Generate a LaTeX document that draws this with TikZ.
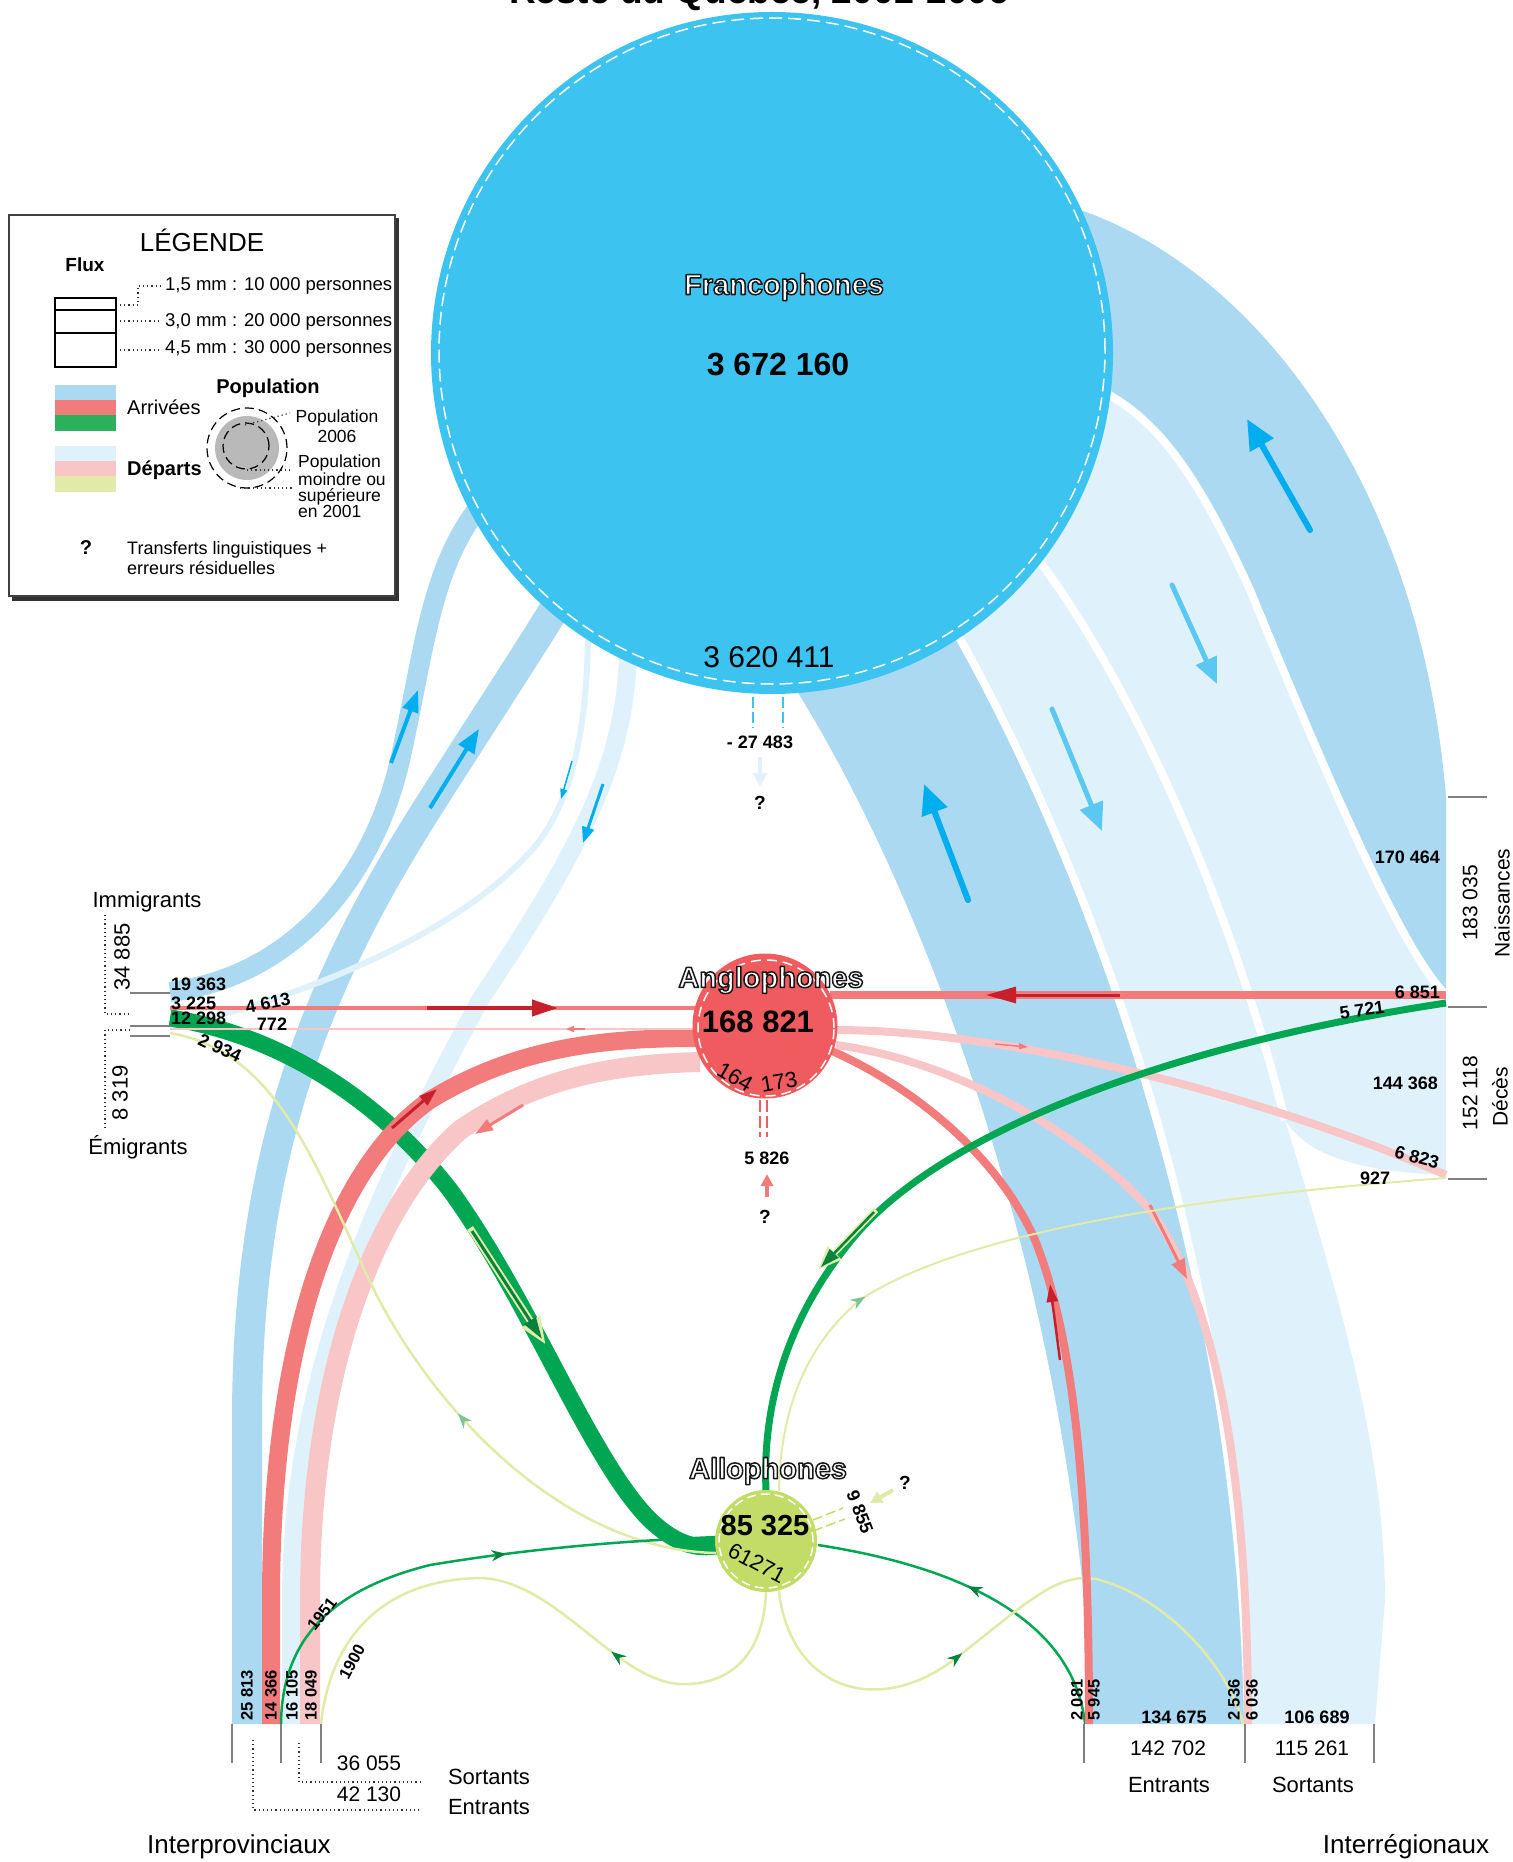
\documentclass[tikz,border=0pt]{standalone}
\usepackage{fontspec}
\setmainfont{Liberation Sans}
\usetikzlibrary{arrows.meta,decorations.markings}

\definecolor{franco}{HTML}{3DC3F0}
\definecolor{bleuA}{HTML}{ABD9F2}
\definecolor{bleuD}{HTML}{DFF2FC}
\definecolor{anglo}{HTML}{EF5B5F}
\definecolor{rougeA}{HTML}{F27B7B}
\definecolor{roseD}{HTML}{F8C6C7}
\definecolor{allo}{HTML}{C3DC67}
\definecolor{vertA}{HTML}{00A651}
\definecolor{vertL}{HTML}{2BB15B}
\definecolor{jauneD}{HTML}{E1EAA7}
\definecolor{flecheA}{HTML}{00AEEF}
\definecolor{flecheD}{HTML}{5BC8F2}
\definecolor{rougeF}{HTML}{C8202A}
\definecolor{vertF}{HTML}{00843D}
\definecolor{vertP}{HTML}{7CC592}

\newcommand\fs[1]{\fontsize{#1}{#1}\selectfont}
\newcommand\outlined[1]{\textcolor{white}{\special{pdf:literal 0.1 G 2 Tr 1.5 w 1 j}#1\special{pdf:literal 0 Tr}}}

\tikzset{
  num/.style={font=\fs{18}\bfseries, inner sep=0pt},
  vnum/.style={font=\fs{16.5}\bfseries, inner sep=0pt, rotate=90, anchor=west},
  lbl/.style={font=\fs{22}, inner sep=0pt},
  outl/.style={font=\fs{29}\bfseries, inner sep=0pt},
  leader/.style={black!80, line width=1.2pt, dash pattern=on 1.2pt off 3pt},
  tick/.style={draw=gray, line width=1.3pt},
  midarr/.style 2 args={postaction={decorate}, decoration={markings, mark=at position #1 with {\arrow[#2]{Stealth[length=15pt,width=11pt]}}}},
  bigarr/.style={-{Triangle[length=30pt,width=26pt]}, line width=6pt, line cap=round}
}

\begin{document}
\begin{tikzpicture}[x=1pt, y=-1pt]
\useasboundingbox (0,0) rectangle (1512,1862);

\node[font=\fs{37}\bfseries, anchor=base] (titre) at (759,4) {Reste du Québec, 2001-2006};

\coordinate (iB) at (170,992);
\coordinate (iR) at (170,1008);
\coordinate (iG) at (170,1018);
\coordinate (eB) at (170,1027);
\coordinate (eR) at (170,1029);
\coordinate (eY) at (170,1033);
\coordinate (pB) at (247,1724);
\coordinate (pR) at (271,1724);
\coordinate (pG) at (281,1724);
\coordinate (sB) at (291,1724);
\coordinate (sR) at (310,1724);
\coordinate (sY) at (321,1724);
\coordinate (rG) at (1085,1724);
\coordinate (rR) at (1089,1724);
\coordinate (rY) at (1243,1724);
\coordinate (rP) at (1248,1724);
\coordinate (nR) at (1446,995);
\coordinate (nG) at (1446,1003);
\coordinate (dP) at (1446,1175);
\coordinate (dY) at (1446,1178);

\draw[fill=black!80, draw=black!80] (12,218) rectangle (398,600);
\draw[fill=white, draw=black!75, line width=1.2pt] (9,215) rectangle (395,596);
\node[font=\fs{26}] (leg) at (202,240) {LÉGENDE};
\node[font=\fs{19}\bfseries] (flux) at (85,265) {Flux};
\draw[line width=1.2pt] (55,298) rectangle (116,310);
\draw[line width=1.2pt] (55,310) rectangle (116,333);
\draw[line width=1.2pt] (55,333) rectangle (116,367);
\draw[leader] (120,305) -- (138,305) -- (138,286) -- (160,286);
\draw[leader] (120,321) -- (160,321);
\draw[leader] (120,350) -- (160,350);
\node[font=\fs{18.5}, anchor=west, inner sep=0pt] (l1) at (165,286) {1,5 mm : 10 000 personnes};
\node[font=\fs{18.5}, anchor=west, inner sep=0pt] (l2) at (165,322) {3,0 mm : 20 000 personnes};
\node[font=\fs{18.5}, anchor=west, inner sep=0pt] (l3) at (165,349) {4,5 mm : 30 000 personnes};
\fill[bleuA] (55,385) rectangle (116,400);
\fill[rougeA] (55,400) rectangle (116,415);
\fill[vertL] (55,415) rectangle (116,431);
\fill[bleuD] (55,446) rectangle (116,461);
\fill[roseD] (55,461) rectangle (116,476);
\fill[jauneD] (55,476) rectangle (116,492);
\node[font=\fs{20}, anchor=west, inner sep=0pt] (arr) at (127,407) {Arrivées};
\node[font=\fs{20}\bfseries, anchor=west, inner sep=0pt] (dep) at (127,470) {Départs};
\node[font=\fs{20}\bfseries] (pop) at (268,388) {Population};
\fill[gray!55] (247,448) circle (32pt);
\draw[line width=1.2pt, dash pattern=on 9pt off 5pt] (246,446) circle (23pt);
\draw[line width=1.2pt, dash pattern=on 9pt off 5pt] (247,448) circle (40pt);
\draw[leader] (245,425) -- (290,413);
\draw[leader] (247,470) -- (293,470);
\draw[leader] (240,488) -- (293,488);
\node[font=\fs{17.5}, align=center, inner sep=0pt] (p06) at (337,426) {Population\\[2pt]2006};
\node[font=\fontsize{17.5}{16}\selectfont, align=left, anchor=north west, inner sep=0pt] (p01) at (298,455) {Population\\moindre ou\\supérieure\\en 2001};
\node[font=\fs{20}\bfseries] (qq) at (86,548) {?};
\node[font=\fontsize{18}{20}\selectfont, align=left, anchor=west, inner sep=0pt] (tl) at (127,558) {Transferts linguistiques +\\erreurs résiduelles};

\fill[bleuA] (1065,205) .. controls (1250,260) and (1420,480) .. (1446,797) -- (1446,995) .. controls (1400,950) and (1320,760) .. (1250,590) .. controls (1200,480) and (1160,420) .. (1100,390) -- cycle;
\fill[bleuD] (1100,390) .. controls (1160,420) and (1200,480) .. (1250,590) .. controls (1320,760) and (1400,950) .. (1446,995) -- (1446,1175) .. controls (1370,1172) and (1310,1160) .. (1285,1120) .. controls (1230,900) and (1130,680) .. (1035,555) -- cycle;
\fill[bleuD] (955,630) .. controls (1080,850) and (1240,1250) .. (1248,1724) -- (1375,1724) -- (1385,1600) .. controls (1385,1450) and (1340,1300) .. (1285,1120) .. controls (1230,900) and (1130,680) .. (1035,555) -- cycle;
\fill[bleuA] (790,680) .. controls (930,900) and (1075,1300) .. (1093,1724) -- (1248,1724) .. controls (1240,1250) and (1080,850) .. (955,630) -- cycle;
\draw[white, line width=8pt] (1100,390) .. controls (1160,420) and (1200,480) .. (1250,590) .. controls (1320,760) and (1400,950) .. (1446,995);
\draw[white, line width=8pt] (1035,555) .. controls (1130,680) and (1230,900) .. (1285,1120);
\draw[white, line width=8pt] (955,630) .. controls (1080,850) and (1240,1250) .. (1248,1724);
\draw[bigarr, flecheA] (1310,530) -- (1247,419);
\draw[bigarr, flecheD, -{Triangle[length=26pt,width=22pt]}, line width=5pt] (1172,585) -- (1217,684);
\draw[bigarr, flecheD, -{Triangle[length=28pt,width=24pt]}, line width=5pt] (1052,709) -- (1102,831);
\draw[bigarr, flecheA] (968,900) -- (924,784);

\draw[bleuA, line width=20pt] (iB) .. controls (300,975) and (375,870) .. (400,760) .. controls (425,650) and (430,560) .. (489,495);
\draw[bleuA, line width=30pt] (pB) -- (247,1420) .. controls (247,1150) and (320,980) .. (420,820) .. controls (480,725) and (520,665) .. (560,600);
\draw[bleuD, line width=18pt] (sB) -- (291,1600) .. controls (291,1350) and (400,1150) .. (480,1000) .. controls (580,850) and (628,760) .. (628,645);
\draw[bleuD, line width=6pt] (eB) .. controls (300,1000) and (470,930) .. (540,840) .. controls (580,785) and (588,700) .. (588,625);
\draw[flecheA, line width=4pt, -{Triangle[length=22pt,width=16pt]}] (391,763) -- (418,690);
\draw[flecheA, line width=4pt, -{Triangle[length=24pt,width=18pt]}] (430,808) -- (479,729);
\draw[flecheA, line width=3pt, -{Triangle[length=16pt,width=12pt]}] (603,784) -- (583,843);
\draw[flecheA, line width=1.5pt, -{Triangle[length=10pt,width=7pt]}] (572,761) -- (561,799);

\draw[vertA, line width=17pt] (iG) .. controls (280,1035) and (380,1100) .. (450,1190) .. controls (530,1300) and (590,1460) .. (650,1520) .. controls (680,1548) and (700,1548) .. (716,1546);
\draw[jauneD, line width=7pt, -{Triangle[length=28pt,width=20pt]}] (470,1228) -- (546,1345);
\draw[vertF, line width=3pt, -{Triangle[length=22pt,width=13pt]}] (472,1231) -- (542,1339);

\draw[rougeA, line width=18pt] (pR) -- (271,1600) .. controls (271,1350) and (330,1170) .. (430,1100) .. controls (520,1045) and (610,1038) .. (700,1038);
\draw[roseD, line width=20pt] (sR) -- (310,1600) .. controls (310,1380) and (370,1210) .. (460,1130) .. controls (540,1075) and (620,1064) .. (700,1062);
\draw[rougeF, line width=3pt, -{Triangle[length=18pt,width=12pt]}] (392,1128) -- (437,1089);
\draw[rougeA, line width=3pt, -{Triangle[length=18pt,width=12pt]}] (523,1105) -- (475,1134);

\draw[rougeA, line width=4pt] (iR) -- (700,1008);
\draw[rougeF, line width=4pt, -{Triangle[length=26pt,width=16pt]}] (427,1008) -- (558,1008);
\draw[roseD, line width=2.5pt] (eR) -- (700,1029);
\draw[rougeA, line width=1.5pt, -{Triangle[length=8pt,width=6pt]}] (585,1029) -- (566,1029);

\draw[jauneD, line width=2.5pt, midarr={0.38}{vertP}] (716,1553) .. controls (560,1550) and (420,1400) .. (360,1260) .. controls (310,1150) and (270,1050) .. (eY);
\draw[vertA, line width=2.5pt, midarr={0.6}{vertF}] (pG) .. controls (282,1640) and (330,1590) .. (430,1565) .. controls (550,1545) and (650,1540) .. (716,1537);
\draw[jauneD, line width=2.5pt, midarr={0.36}{vertF}] (766,1591) .. controls (765,1630) and (750,1680) .. (690,1684) .. controls (620,1690) and (560,1580) .. (480,1578) .. controls (380,1580) and (330,1640) .. (sY);
\draw[vertA, line width=2.5pt, midarr={0.55}{vertF}] (rG) .. controls (1075,1630) and (980,1570) .. (818,1545);
\draw[jauneD, line width=2.5pt, midarr={0.4}{vertF}] (779,1591) .. controls (790,1690) and (880,1720) .. (960,1655) .. controls (1030,1600) and (1060,1570) .. (1100,1580) .. controls (1170,1600) and (1230,1670) .. (rY);

\draw[rougeA, line width=8pt] (830,1050) .. controls (920,1090) and (1000,1160) .. (1035,1240) .. controls (1075,1340) and (1089,1500) .. (rR);
\draw[rougeF, line width=2.5pt, -{Triangle[length=18pt,width=11pt]}] (1060,1360) -- (1050,1284);
\draw[roseD, line width=8pt] (836,1045) .. controls (950,1060) and (1080,1130) .. (1150,1210) .. controls (1210,1290) and (1248,1450) .. (rP);
\draw[rougeA, line width=3pt, -{Triangle[length=20pt,width=14pt]}] (1150,1205) -- (1187,1279);
\draw[roseD, line width=8pt] (836,1030) .. controls (1000,1030) and (1250,1090) .. (dP);
\draw[rougeA, line width=1.5pt, -{Triangle[length=9pt,width=6pt]}] (995,1044) -- (1028,1047);
\draw[rougeA, line width=8pt] (nR) -- (830,995);
\draw[rougeF, line width=3pt, -{Triangle[length=30pt,width=16pt]}] (1120,995) -- (986,995);
\draw[vertA, line width=7pt] (nG) .. controls (1200,1040) and (960,1120) .. (860,1230) .. controls (790,1310) and (762,1400) .. (766,1490);
\draw[jauneD, line width=6pt, -{Triangle[length=24pt,width=18pt]}] (876,1210) -- (818,1270);
\draw[vertF, line width=2.5pt, -{Triangle[length=19pt,width=12pt]}] (874,1212) -- (821,1267);
\draw[jauneD, line width=2pt, midarr={0.27}{vertP}] (779,1491) .. controls (780,1420) and (800,1350) .. (860,1300) .. controls (950,1240) and (1150,1200) .. (dY);

\node[circle, fill=franco, minimum size=682pt, inner sep=0pt] (francoC) at (772,353) {};
\draw[white, line width=1.5pt, dash pattern=on 13pt off 6pt] (772,351) circle (333pt);
\node[circle, fill=anglo, minimum size=145pt, inner sep=0pt] (angloC) at (765,1026) {};
\draw[white, line width=1.5pt, dash pattern=on 10pt off 6pt] (766,1028) circle (68pt);
\node[circle, fill=allo, minimum size=102pt, inner sep=0pt] (alloC) at (766,1541) {};
\draw[white, line width=1.5pt, dash pattern=on 9pt off 5pt] (766,1541) circle (47pt);

\node[outl] (frl) at (784,287) {\outlined{Francophones}};
\node[font=\fs{32}\bfseries] (frn) at (778,365) {3 672 160};
\node[font=\fs{30}] (fro) at (769,657) {3 620 411};
\draw[franco, line width=1.5pt, dash pattern=on 11pt off 4pt] (753,697) -- (753,728);
\draw[franco, line width=1.5pt, dash pattern=on 11pt off 4pt] (783,697) -- (783,728);
\node[num] (frq) at (760,742) {- 27 483};
\draw[bleuD, line width=4pt, -{Triangle[length=14pt,width=14pt]}] (760,757) -- (760,787);
\node[font=\fs{19}\bfseries] (frx) at (760,803) {?};

\node[outl] (anl) at (771,980) {\outlined{Anglophones}};
\node[font=\fs{31}\bfseries] (ann) at (758,1022) {168 821};
\node[font=\fs{22}, rotate=-30] (ano1) at (735,1077) {164};
\node[font=\fs{22}, rotate=10] (ano2) at (779,1082) {173};
\draw[anglo, line width=1.5pt, dash pattern=on 12pt off 4pt] (760,1100) -- (760,1137);
\draw[anglo, line width=1.5pt, dash pattern=on 12pt off 4pt] (767,1100) -- (767,1137);
\node[num] (anq) at (767,1158) {5 826};
\draw[rougeA, line width=4pt, -{Triangle[length=12pt,width=12pt]}] (767,1197) -- (767,1174);
\node[font=\fs{19}\bfseries] (anx) at (765,1217) {?};

\node[outl] (all) at (768,1471) {\outlined{Allophones}};
\node[font=\fs{29}\bfseries] (aln) at (765,1526) {85 325};
\node[font=\fs{22}, rotate=-28] (alo) at (757,1563) {61271};
\draw[allo, line width=1.5pt, dash pattern=on 10pt off 4pt] (813,1520) -- (843,1508);
\draw[allo, line width=1.5pt, dash pattern=on 10pt off 4pt] (813,1531) -- (845,1519);
\node[num, rotate=-69] (alq) at (860,1512) {9 855};
\draw[jauneD, line width=4pt, -{Triangle[length=12pt,width=12pt]}] (893,1490) -- (870,1503);
\node[font=\fs{19}\bfseries] (alx) at (905,1483) {?};

\node[lbl] (imml) at (147,902) {Immigrants};
\node[lbl] (emil) at (138,1147) {Émigrants};
\node[lbl, rotate=90] (immn) at (122,957) {34 885};
\node[lbl, rotate=90] (emin) at (120,1093) {8 319};
\draw[leader] (105,915) -- (105,1014) -- (130,1014);
\draw[leader] (130,1030) -- (105,1030) -- (105,1127);
\draw[tick] (130,993) -- (170,993);
\draw[tick] (130,1026) -- (170,1026);
\draw[tick] (130,1036) -- (170,1036);
\node[num, anchor=west] (n1) at (171,984) {19 363};
\node[num, anchor=west] (n2) at (171,1003) {3 225};
\node[num, anchor=west] (n3) at (171,1018) {12 298};
\node[num, rotate=10] (n4) at (268,1003) {4 613};
\node[num] (n5) at (272,1024) {772};
\node[num, rotate=-25] (n6) at (220,1048) {2 934};

\node[vnum] (b1) at (247,1721) {25 813};
\node[vnum] (b2) at (271,1721) {14 366};
\node[vnum] (b3) at (292,1721) {16 105};
\node[vnum] (b4) at (311,1721) {18 049};
\node[font=\fs{16.5}\bfseries, inner sep=0pt, rotate=52] (m1) at (322,1614) {1951};
\node[font=\fs{16.5}\bfseries, inner sep=0pt, rotate=62] (m2) at (352,1662) {1900};
\draw[tick] (232,1724) -- (232,1763);
\draw[tick] (281,1724) -- (281,1763);
\draw[tick] (321,1724) -- (321,1763);
\draw[leader] (253,1740) -- (253,1810) -- (420,1810);
\draw[leader] (299,1743) -- (299,1782) -- (420,1782);
\node[font=\fs{21}] (s1) at (369,1763) {36 055};
\node[font=\fs{21}] (s2) at (369,1794) {42 130};
\node[lbl] (sl) at (489,1777) {Sortants};
\node[lbl] (el) at (489,1807) {Entrants};
\node[font=\fs{26}] (ip) at (239,1847) {Interprovinciaux};

\node[vnum] (c1) at (1077,1721) {2 081};
\node[vnum] (c2) at (1094,1721) {5 945};
\node[vnum] (c3) at (1234,1721) {2 536};
\node[vnum] (c4) at (1252,1721) {6 036};
\node[num] (c5) at (1174,1717) {134 675};
\node[num] (c6) at (1317,1717) {106 689};
\draw[tick] (1084,1724) -- (1084,1763);
\draw[tick] (1245,1724) -- (1245,1763);
\draw[tick] (1374,1724) -- (1374,1763);
\node[font=\fs{21}] (t1) at (1168,1748) {142 702};
\node[font=\fs{21}] (t2) at (1312,1748) {115 261};
\node[lbl] (te) at (1169,1785) {Entrants};
\node[lbl] (ts) at (1313,1785) {Sortants};
\node[font=\fs{26}] (ir) at (1406,1847) {Interrégionaux};

\draw[tick] (1448,797) -- (1487,797);
\draw[tick] (1448,1007) -- (1487,1007);
\draw[tick] (1448,1179) -- (1487,1179);
\node[num, anchor=east] (r1) at (1440,857) {170 464};
\node[font=\fs{21}, rotate=90] (r2) at (1470,903) {183 035};
\node[font=\fs{21}, rotate=90] (r3) at (1502,903) {Naissances};
\node[num, anchor=east] (r4) at (1440,992) {6 851};
\node[num, rotate=8] (r5) at (1362,1010) {5 721};
\node[num, anchor=east] (r6) at (1438,1083) {144 368};
\node[font=\fs{21}, rotate=90] (r7) at (1470,1093) {152 118};
\node[font=\fs{21}, rotate=90] (r8) at (1500,1097) {Décès};
\node[num, rotate=-15] (r9) at (1417,1157) {6 823};
\node[num] (r10) at (1375,1178) {927};
\end{tikzpicture}
\end{document}
